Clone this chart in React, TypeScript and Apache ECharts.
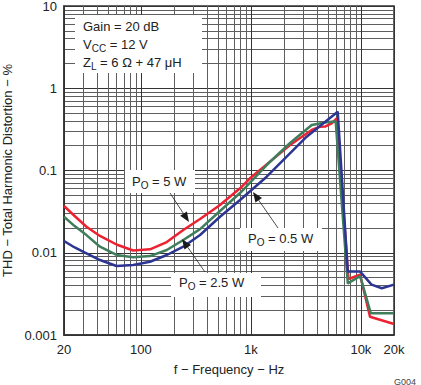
import React, { useEffect, useRef } from 'react';
import * as echarts from 'echarts';

// ---- data ----
const xTickValues = [20, 100, 1000, 10000, 20000];
const xTickLabels = ['20', '100', '1k', '10k', '20k'];
const yTickValues = [0.001, 0.01, 0.1, 1, 10];
const yTickLabels = ['0.001', '0.01', '0.1', '1', '10'];

const freq5W = [20, 25, 32, 42.5, 60, 85, 121, 172, 243, 345, 524, 797, 981, 1392, 2270, 3572, 4250, 4720, 5430, 6028, 7712, 9840, 12100, 20000];
const thd5W = [0.037, 0.028, 0.0207, 0.016, 0.0126, 0.01065, 0.011, 0.0135, 0.0189, 0.0257, 0.0381, 0.0608, 0.0804, 0.1186, 0.204, 0.311, 0.341, 0.342, 0.375, 0.431, 0.0048, 0.0054, 0.00167, 0.00136];

const freq2p5W = [20, 25, 32, 42.5, 60, 85, 121, 172, 243, 345, 524, 797, 1392, 2270, 3572, 4720, 5432, 5900, 7600, 9840, 12300, 20000];
const thd2p5W = [0.0274, 0.0211, 0.0164, 0.01185, 0.0094, 0.0088, 0.0091, 0.0108, 0.0143, 0.0194, 0.0322, 0.0532, 0.1166, 0.2159, 0.3574, 0.3834, 0.392, 0.395, 0.00425, 0.0052, 0.00184, 0.00184];

const freq05W = [20, 25, 32, 42.5, 60, 85, 121, 172, 243, 345, 524, 797, 1392, 3215, 6156, 7600, 9840, 12500, 15500, 20000];
const thd05W = [0.0139, 0.0116, 0.00985, 0.00816, 0.0069, 0.0071, 0.00778, 0.00939, 0.01185, 0.01643, 0.02743, 0.04378, 0.0841, 0.2576, 0.5187, 0.0059, 0.0059, 0.0041, 0.0037, 0.0041];

const FONT = '"Liberation Sans", Arial, sans-serif';

function zip(xs: number[], ys: number[]) {
  return xs.map((x, i) => [x, ys[i]]);
}

function labelFor(v: number, values: number[], labels: string[]) {
  let best = 0;
  let bd = Infinity;
  values.forEach((t, i) => {
    const d = Math.abs(Math.log10(v) - Math.log10(t));
    if (d < bd) { bd = d; best = i; }
  });
  return bd < 0.02 ? labels[best] : '';
}

const rich = {
  n: { fontSize: 13, lineHeight: 18, verticalAlign: 'middle', fontFamily: FONT, fill: '#222' },
  s: { fontSize: 10, lineHeight: 8, verticalAlign: 'bottom', fontFamily: FONT, fill: '#222' },
};

function arrow(sx: number, sy: number, tx: number, ty: number) {
  const dx = tx - sx, dy = ty - sy;
  const len = Math.sqrt(dx * dx + dy * dy);
  const ux = dx / len, uy = dy / len;
  const L = 10, W = 4;
  const bx = tx - ux * L, by = ty - uy * L;
  const px = -uy, py = ux;
  return [
    { type: 'line', shape: { x1: sx, y1: sy, x2: bx, y2: by }, style: { stroke: '#222', lineWidth: 0.8 }, z: 20 },
    {
      type: 'polygon',
      shape: { points: [[tx, ty], [bx + px * W, by + py * W], [bx - px * W, by - py * W]] },
      style: { fill: '#1a1a1a' },
      z: 20,
    },
  ];
}

function box(x: number, y: number, w: number, h: number) {
  return { type: 'rect', shape: { x, y, width: w, height: h }, style: { fill: '#fff' }, z: 15 };
}

function rtext(x: number, y: number, text: string) {
  return {
    type: 'text',
    x,
    y,
    style: { text, rich, verticalAlign: 'middle', align: 'left', fontFamily: FONT, fontSize: 13, fill: '#222' },
    z: 21,
  };
}

export default function App() {
  const ref = useRef<HTMLDivElement>(null);
  useEffect(() => {
    if (!ref.current) return;
    const chart = echarts.init(ref.current, null, { renderer: 'svg' });
    const option: any = {
      animation: false,
      backgroundColor: '#fff',
      grid: {
        left: 64, right: 27, top: 6, bottom: 50,
        outerBoundsMode: 'none', containLabel: false,
        show: true, borderColor: '#333', borderWidth: 1.5, backgroundColor: 'transparent',
      },
      xAxis: {
        type: 'log',
        logBase: 10,
        min: 20,
        max: 20000,
        name: 'f − Frequency − Hz',
        nameLocation: 'middle',
        nameGap: 28,
        nameTextStyle: { fontFamily: FONT, fontSize: 13, color: '#222' },
        axisLine: { show: true, lineStyle: { color: '#333', width: 1.5 } },
        axisTick: { show: false },
        axisLabel: {
          fontFamily: FONT, fontSize: 13, color: '#222', margin: 8,
          formatter: (v: number) => labelFor(v, xTickValues, xTickLabels),
        },
        splitLine: { show: true, lineStyle: { color: '#333', width: 1 } },
        minorTick: { show: false, splitNumber: 9 },
        minorSplitLine: { show: true, lineStyle: { color: '#5e5e5e', width: 1 } },
      },
      yAxis: {
        type: 'log',
        logBase: 10,
        min: 0.001,
        max: 10,
        name: 'THD − Total Harmonic Distortion − %',
        nameLocation: 'middle',
        nameGap: 49,
        nameTextStyle: { fontFamily: FONT, fontSize: 13, color: '#222' },
        axisLine: { show: true, lineStyle: { color: '#333', width: 1.5 } },
        axisTick: { show: false },
        axisLabel: {
          fontFamily: FONT, fontSize: 13, color: '#222', margin: 7,
          formatter: (v: number) => labelFor(v, yTickValues, yTickLabels),
        },
        splitLine: { show: true, lineStyle: { color: '#333', width: 1 } },
        minorTick: { show: false, splitNumber: 9 },
        minorSplitLine: { show: true, lineStyle: { color: '#5e5e5e', width: 1 } },
      },
      series: [
        { name: 'PO = 5 W', type: 'line', data: zip(freq5W, thd5W), symbol: 'none', lineStyle: { color: '#ec2232', width: 2.5 }, z: 3 },
        { name: 'PO = 2.5 W', type: 'line', data: zip(freq2p5W, thd2p5W), symbol: 'none', lineStyle: { color: '#3f7d5c', width: 2.5 }, z: 4 },
        { name: 'PO = 0.5 W', type: 'line', data: zip(freq05W, thd05W), symbol: 'none', lineStyle: { color: '#2c3592', width: 2.5 }, z: 5 },
      ],
      graphic: [
        box(75, 15, 127, 58),
        rtext(83, 26, '{n|Gain = 20 dB}'),
        rtext(83, 44, '{n|V}{s|CC}{n| = 12 V}'),
        rtext(83, 62, '{n|Z}{s|L}{n| = 6 Ω + 47 μH}'),
        box(125, 170, 70, 23),
        rtext(132, 181, '{n|P}{s|O}{n| = 5 W}'),
        ...arrow(170, 193, 189, 222),
        box(240, 228, 82, 23),
        rtext(248, 238, '{n|P}{s|O}{n| = 0.5 W}'),
        ...arrow(278, 228, 253, 192),
        box(171, 273, 90, 24),
        rtext(179, 282, '{n|P}{s|O}{n| = 2.5 W}'),
        ...arrow(205, 272, 182, 239),
        {
          type: 'text', right: 5, top: 377,
          style: { text: 'G004', fontFamily: FONT, fontSize: 9, fill: '#444' },
          z: 21,
        },
      ],
    };
    chart.setOption(option);
    return () => chart.dispose();
  }, []);
  return <div ref={ref} style={{ position: 'fixed', left: 0, top: 0, width: 421, height: 385, background: '#fff' }} />;
}
